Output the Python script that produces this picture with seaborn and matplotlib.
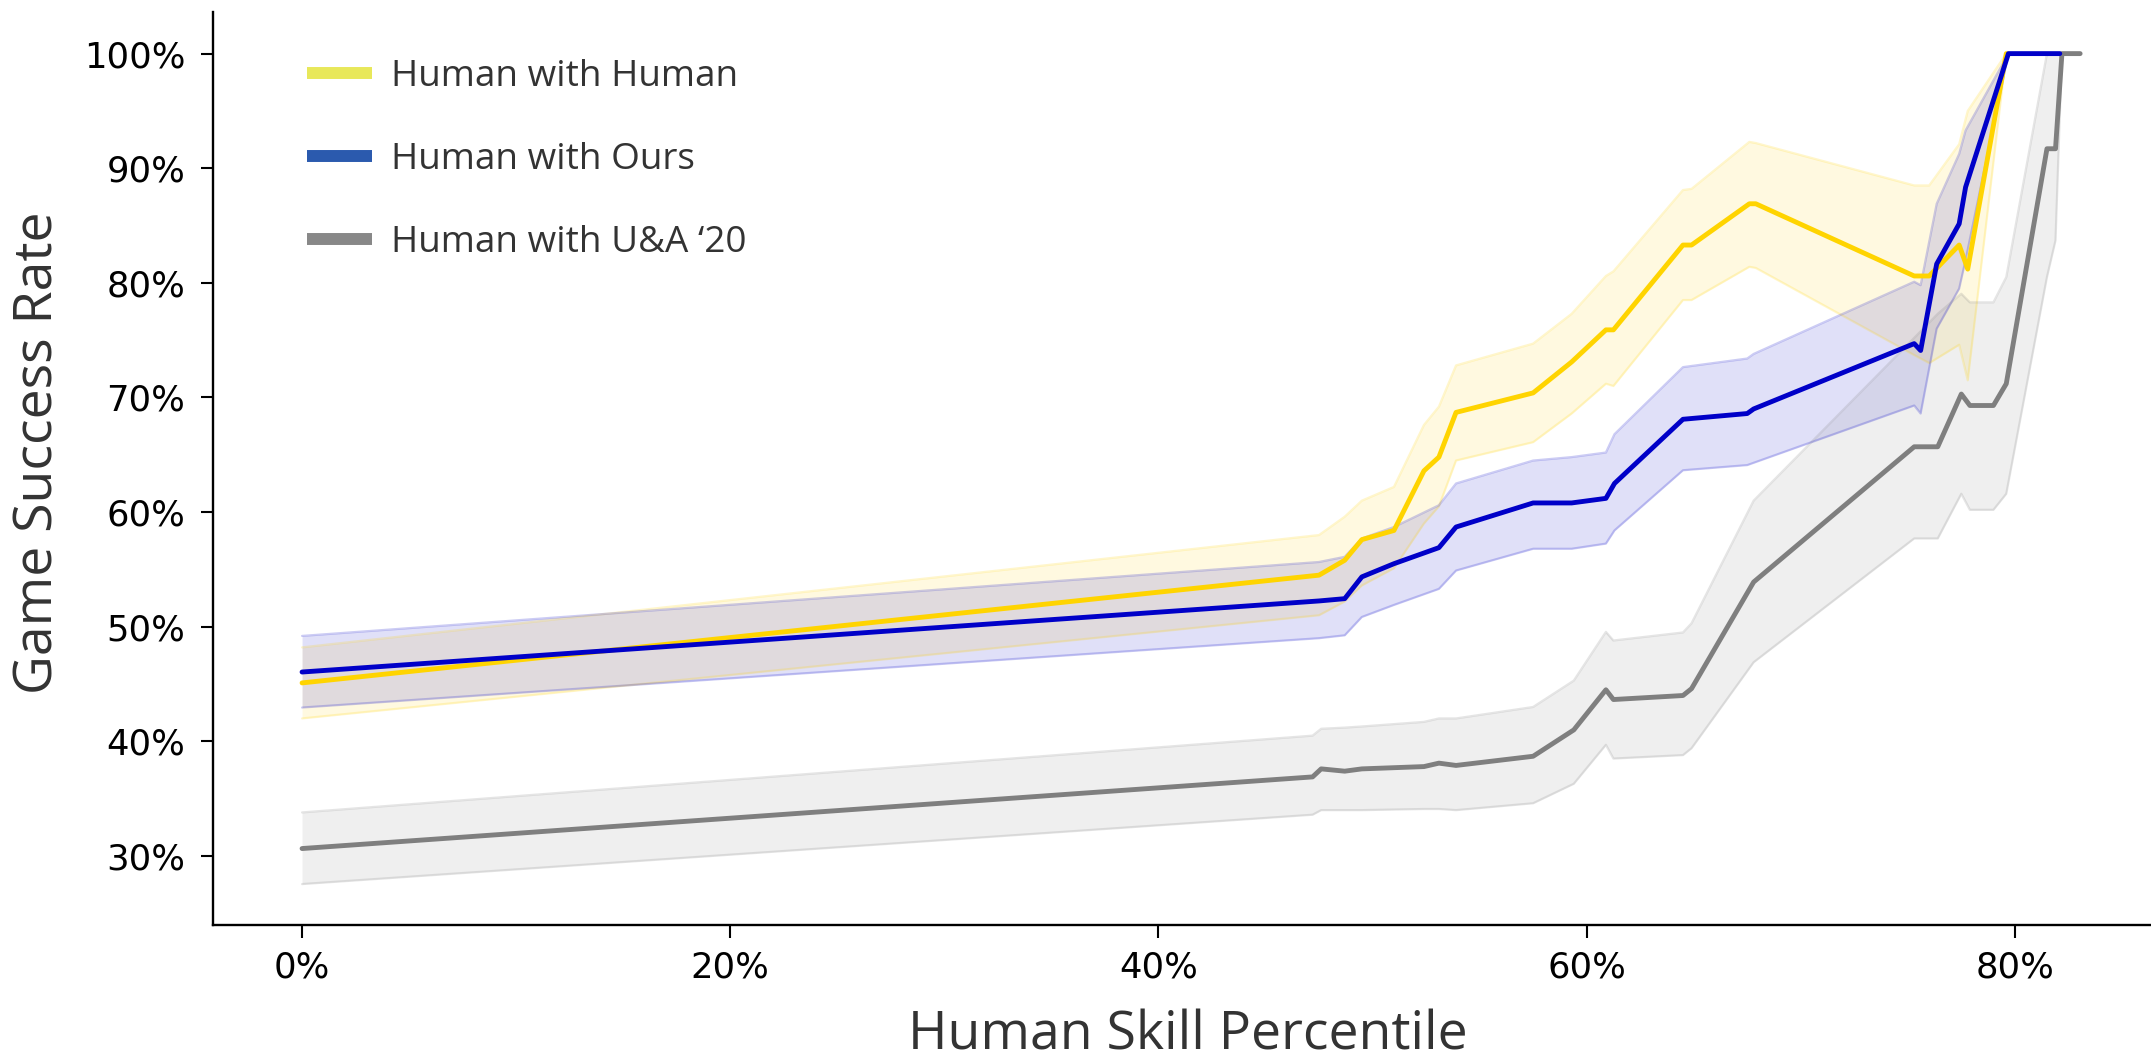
import matplotlib
matplotlib.use("Agg")
import matplotlib.pyplot as plt
import seaborn as sns
import pandas as pd
from matplotlib.lines import Line2D
from matplotlib.ticker import FuncFormatter

# ---- data: success rate (%) vs. human skill percentile (%) ----
# Human with Human
hh_x    = [0, 47.5, 48.7, 49.5, 51.0, 52.4, 53.1, 53.9, 57.5, 59.3, 60.9, 61.25,
           64.5, 64.9, 67.6, 67.9, 75.3, 76.0, 77.4, 77.8, 79.6]
hh_mean = [45.1, 54.5, 55.8, 57.6, 58.4, 63.6, 64.8, 68.7, 70.4, 73.1, 75.9, 75.9,
           83.3, 83.3, 86.9, 86.9, 80.6, 80.6, 83.3, 81.2, 100]
hh_hi   = [48.2, 58.0, 59.6, 61.0, 62.2, 67.6, 69.2, 72.8, 74.7, 77.3, 80.6, 81.0,
           88.1, 88.2, 92.3, 92.2, 88.5, 88.5, 92.1, 95.0, 100]
hh_lo   = [42.0, 51.0, 52.2, 53.6, 55.1, 59.0, 60.5, 64.5, 66.1, 68.6, 71.2, 71.0,
           78.5, 78.5, 81.4, 81.3, 73.7, 73.0, 74.6, 71.5, 100]

# Human with Ours
ho_x    = [0, 47.5, 48.7, 49.5, 51.0, 53.1, 53.9, 57.5, 59.3, 60.9, 61.3, 64.5,
           67.5, 67.8, 75.3, 75.6, 76.35, 77.4, 77.7, 79.7, 82.1]
ho_mean = [46.05, 52.25, 52.45, 54.35, 55.5, 56.9, 58.7, 60.8, 60.8, 61.2, 62.5, 68.1,
           68.6, 69.0, 74.7, 74.1, 81.65, 85.15, 88.35, 100, 100]
ho_hi   = [49.2, 55.65, 56.1, 57.7, 58.7, 60.6, 62.5, 64.5, 64.8, 65.2, 66.8, 72.65,
           73.4, 73.8, 80.1, 79.8, 86.9, 91.25, 93.3, 100, 100]
ho_lo   = [42.95, 49.0, 49.25, 50.85, 51.9, 53.3, 54.9, 56.8, 56.8, 57.25, 58.4, 63.65,
           64.1, 64.3, 69.3, 68.6, 76.0, 79.5, 82.0, 100, 100]

# Human with U&A '20
ua_x    = [0, 47.2, 47.6, 48.7, 49.5, 52.4, 53.1, 53.9, 57.5, 59.4, 60.9, 61.25,
           64.5, 64.9, 67.8, 75.3, 76.4, 77.5, 77.9, 79.0, 79.6, 81.5, 81.9, 82.2, 83.05]
ua_mean = [30.65, 36.9, 37.6, 37.4, 37.6, 37.8, 38.1, 37.9, 38.7, 41.0, 44.5, 43.65,
           44.0, 44.6, 53.9, 65.7, 65.7, 70.3, 69.3, 69.3, 71.2, 91.7, 91.7, 100, 100]
ua_hi   = [33.8, 40.5, 41.1, 41.2, 41.3, 41.7, 42.0, 42.0, 43.0, 45.3, 49.55, 48.8,
           49.5, 50.3, 61.0, 75.2, 77.3, 79.05, 78.3, 78.3, 80.5, 100, 100, 100, 100]
ua_lo   = [27.55, 33.6, 34.0, 34.0, 34.0, 34.1, 34.1, 34.0, 34.6, 36.3, 39.7, 38.5,
           38.8, 39.4, 46.9, 57.7, 57.7, 61.6, 60.2, 60.2, 61.6, 80.5, 83.7, 100, 100]

series_names = ["Human with Human", "Human with Ours", "Human with U&A \u201820"]
line_colors = ["#FFD400", "#0000C8", "#7F7F7F"]
legend_colors = ["#E8E85A", "#2B5AAE", "#888888"]
x_ticks = [0, 20, 40, 60, 80]
y_ticks = [30, 40, 50, 60, 70, 80, 90, 100]

sns.set_style("ticks")
plt.rcParams["font.family"] = ["DejaVu Sans"]

frames = []
for name, xs, ys in zip(series_names, [hh_x, ho_x, ua_x], [hh_mean, ho_mean, ua_mean]):
    frames.append(pd.DataFrame({"pct": xs, "rate": ys, "series": name}))
df = pd.concat(frames, ignore_index=True)

W, H = 2151, 1060
fig = plt.figure(figsize=(W / 100, H / 100), dpi=100)
ax = fig.add_axes([213 / W, 135 / H, 1938 / W, 913 / H])

# confidence bands with soft outlines
bands = [(hh_x, hh_lo, hh_hi), (ho_x, ho_lo, ho_hi), (ua_x, ua_lo, ua_hi)]
for (xs, lo, hi), c in zip(bands, line_colors):
    ax.fill_between(xs, lo, hi, color=c, alpha=0.12, lw=0, zorder=1)
    ax.plot(xs, lo, color=c, alpha=0.2, lw=1.6, zorder=1.5)
    ax.plot(xs, hi, color=c, alpha=0.2, lw=1.6, zorder=1.5)

# mean curves (gray first, blue on top)
draw_order = [series_names[2], series_names[0], series_names[1]]
sns.lineplot(data=df, x="pct", y="rate", hue="series", hue_order=draw_order,
             palette=dict(zip(series_names, line_colors)), linewidth=3.5,
             errorbar=None, legend=False, sort=False, ax=ax, zorder=3)

ax.set_xlim(-4.16, 86.36)
ax.set_ylim(23.98, 103.63)
ax.set_xticks(x_ticks)
ax.set_yticks(y_ticks)
pct_fmt = FuncFormatter(lambda v, _: f"{v:.0f}%")
ax.xaxis.set_major_formatter(pct_fmt)
ax.yaxis.set_major_formatter(pct_fmt)
ax.tick_params(axis="both", length=9, width=1.5, labelsize=25.5, colors="black")
ax.tick_params(axis="y", pad=11)
ax.tick_params(axis="x", pad=9.5)

sns.despine(ax=ax)
for s in ("left", "bottom"):
    ax.spines[s].set_linewidth(1.7)
    ax.spines[s].set_color("black")

label_kw = dict(fontsize=38.5, family="Open Sans", color="#333333")
ax.set_xlabel("Human Skill Percentile", **label_kw)
ax.set_ylabel("Game Success Rate", **label_kw)
ax.xaxis.set_label_coords(0.503, -0.0915)
ax.yaxis.set_label_coords(-0.076, 0.517)

handles = [Line2D([], [], color=c, lw=8.6, solid_capstyle="butt") for c in legend_colors]
ax.legend(handles, series_names, loc="upper left",
          bbox_to_anchor=(306.7 / W, 1 - 59 / H), bbox_transform=fig.transFigure,
          frameon=False, borderpad=0, borderaxespad=0, handlelength=1.77,
          handletextpad=0.5, labelspacing=1.27,
          prop={"family": "Open Sans", "size": 26.6}, labelcolor="#333333")

fig.savefig("out.png", dpi=100)
